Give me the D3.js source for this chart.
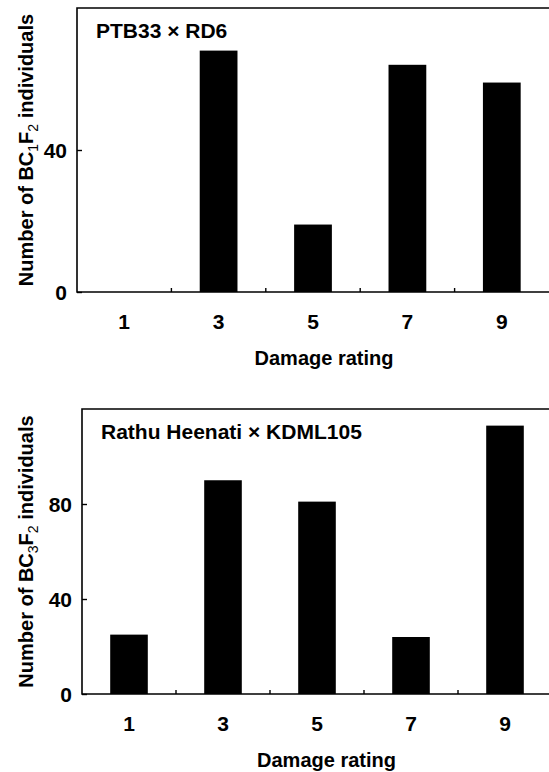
<!DOCTYPE html>
<meta charset="utf-8">
<style>
body { margin: 0; background: #fff; }
text { font-family: "Liberation Sans", Arial, sans-serif; font-weight: bold; fill: #000; }
.tick text { font-size: 21px; }
</style>
<svg width="549" height="772"></svg>
<script src="https://d3js.org/d3.v7.min.js"></script>
<script>

// damage rating classes on the x axis
var ratings = ["1", "3", "5", "7", "9"];

// number of individuals per rating
var countsPTB33 = [0, 68, 19, 64, 59];
var countsRathu = [25, 90, 81, 24, 113];

var yTicksTop = [0, 40],
    yTicksBottom = [0, 40, 80];

var svg = d3.select("svg");

function drawPanel(opt) {
  var g = svg.append("g");

  var x = d3.scaleBand()
      .domain(ratings)
      .range([opt.left, opt.right])
      .paddingInner(0.6)
      .paddingOuter(0.3);

  var y = d3.scaleLinear()
      .domain([0, opt.ymax])
      .range([opt.bottom, opt.top]);

  // frame (right edge sits off the page, as in the figure)
  g.append("path")
      .attr("d", "M" + opt.right + "," + opt.top + "H" + opt.left + "V" + opt.bottom + "H" + opt.right)
      .attr("fill", "none")
      .attr("stroke", "#000")
      .attr("stroke-width", 1.6);

  g.selectAll("rect")
    .data(opt.values)
    .enter().append("rect")
      .attr("x", function(d, i) { return x(ratings[i]); })
      .attr("width", x.bandwidth())
      .attr("y", function(d) { return y(d); })
      .attr("height", function(d) { return opt.bottom - y(d); })
      .attr("fill", "#000");

  // small inward ticks between the bars
  var step = x.step();
  g.selectAll(".xt")
    .data(ratings.slice(1))
    .enter().append("line")
      .attr("x1", function(d) { return x(d) - step * 0.3; })
      .attr("x2", function(d) { return x(d) - step * 0.3; })
      .attr("y1", opt.bottom)
      .attr("y2", opt.bottom - 4)
      .attr("stroke", "#000")
      .attr("stroke-width", 1.4);

  g.selectAll(".xl")
    .data(ratings)
    .enter().append("text")
      .attr("x", function(d) { return x(d) + x.bandwidth() / 2; })
      .attr("y", opt.bottom + 37)
      .attr("text-anchor", "middle")
      .style("font-size", "21px")
      .text(function(d) { return d; });

  var yAxis = g.append("g")
      .attr("transform", "translate(" + opt.left + ",0)")
      .call(d3.axisRight(y).tickValues(opt.yTicks).tickSize(5).tickFormat(d3.format("d")));
  yAxis.select(".domain").remove();
  yAxis.selectAll("line").attr("stroke-width", 1.4);
  yAxis.selectAll("text")
      .attr("x", -10)
      .attr("dy", "0.36em")
      .attr("text-anchor", "end");

  g.append("text")
      .attr("x", opt.left + 19)
      .attr("y", opt.top + 30)
      .style("font-size", "21px")
      .text(opt.title);

  g.append("text")
      .attr("x", (opt.left + 547) / 2 + 12)
      .attr("y", opt.bottom + 73)
      .attr("text-anchor", "middle")
      .style("font-size", "20px")
      .text("Damage rating");

  var yl = g.append("text")
      .attr("transform", "translate(33," + ((opt.top + opt.bottom) / 2) + ") rotate(-90)")
      .attr("text-anchor", "middle")
      .style("font-size", "20px");
  yl.append("tspan").text("Number of BC");
  yl.append("tspan").attr("dy", 5).style("font-size", "14px").style("font-weight", "normal").text(opt.gen);
  yl.append("tspan").attr("dy", -5).text("F");
  yl.append("tspan").attr("dy", 5).style("font-size", "14px").style("font-weight", "normal").text("2");
  yl.append("tspan").attr("dy", -5).text(" individuals");
}

drawPanel({
  values: countsPTB33, title: "PTB33 \u00d7 RD6", gen: "1",
  ymax: 80, yTicks: yTicksTop,
  left: 77, right: 549, top: 8, bottom: 292
});

drawPanel({
  values: countsRathu, title: "Rathu Heenati \u00d7 KDML105", gen: "3",
  ymax: 120, yTicks: yTicksBottom,
  left: 82, right: 552, top: 409, bottom: 694
});

</script>
